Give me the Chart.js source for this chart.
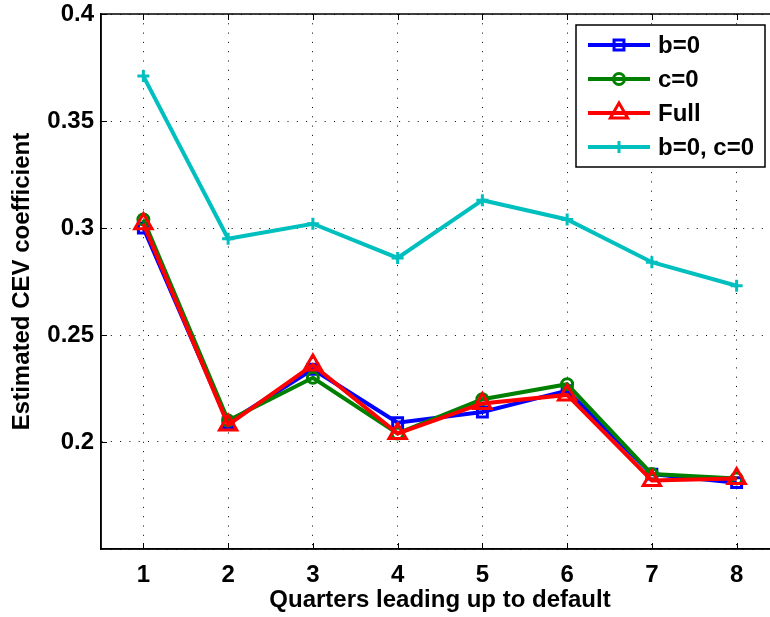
<!DOCTYPE html>
<html>
<head>
<meta charset="utf-8">
<script src="https://cdn.jsdelivr.net/npm/chart.js@4.4.0/dist/chart.umd.min.js"></script>
<style>
  html, body { margin: 0; padding: 0; background: #fff; overflow: hidden; }
  #wrap { width: 800px; height: 617px; }
</style>
</head>
<body>
<div id="wrap"><canvas id="myChart" width="800" height="617"></canvas></div>
<script>
let quarters = ['1', '2', '3', '4', '5', '6', '7', '8'];
let seriesNames = ['b=0', 'c=0', 'Full', 'b=0, c=0'];
let bZero  = [0.300, 0.209, 0.234, 0.209, 0.214, 0.224, 0.185, 0.181];
let cZero  = [0.304, 0.210, 0.230, 0.204, 0.220, 0.227, 0.185, 0.183];
let full   = [0.302, 0.208, 0.236, 0.204, 0.218, 0.222, 0.182, 0.183];
let bcZero = [0.371, 0.295, 0.302, 0.286, 0.313, 0.304, 0.284, 0.273];
let yTicks = [0.2, 0.25, 0.3, 0.35, 0.4];

let fontFam = '"Liberation Sans", Arial, Helvetica, sans-serif';
Chart.defaults.font.family = fontFam;
Chart.defaults.color = '#000';

// matlab style box + inward tick marks
const axesBox = {
  id: 'axesBox',
  beforeDatasetsDraw(chart) {
    const ctx = chart.ctx, a = chart.chartArea;
    const xs = chart.scales.x, ys = chart.scales.y;
    ctx.save();
    ctx.strokeStyle = '#000';
    ctx.lineWidth = 1.5;
    ctx.strokeRect(a.left, a.top, a.right - a.left, a.bottom - a.top);
    ctx.lineWidth = 1;
    ctx.beginPath();
    for (let i = 0; i < quarters.length; i++) {
      const px = Math.round(xs.getPixelForValue(i)) + 0.5;
      ctx.moveTo(px, a.bottom); ctx.lineTo(px, a.bottom - 6);
      ctx.moveTo(px, a.top); ctx.lineTo(px, a.top + 6);
    }
    yTicks.forEach(v => {
      const py = Math.round(ys.getPixelForValue(v)) + 0.5;
      ctx.moveTo(a.left, py); ctx.lineTo(a.left + 6, py);
      ctx.moveTo(a.right, py); ctx.lineTo(a.right - 6, py);
    });
    ctx.stroke();
    ctx.restore();
  }
};

const legendBox = {
  id: 'legendBox',
  afterDraw(chart) {
    const ctx = chart.ctx, a = chart.chartArea;
    const w = 189, h = 142;
    const x0 = a.right - 14 - w, y0 = a.top + 11;
    ctx.save();
    ctx.fillStyle = '#fff';
    ctx.fillRect(x0, y0, w, h);
    ctx.strokeStyle = '#000';
    ctx.lineWidth = 1.5;
    ctx.strokeRect(x0, y0, w, h);
    chart.data.datasets.forEach((ds, i) => {
      const cy = y0 + 20 + i * 34;
      ctx.strokeStyle = ds.borderColor;
      ctx.lineWidth = ds.borderWidth;
      ctx.beginPath();
      ctx.moveTo(x0 + 12, cy);
      ctx.lineTo(x0 + 74, cy);
      ctx.stroke();
      ctx.fillStyle = 'rgba(0,0,0,0)';
      ctx.lineWidth = ds.pointBorderWidth;
      Chart.helpers.drawPoint(ctx, {
        pointStyle: ds.pointStyle, radius: ds.pointRadius,
        borderWidth: ds.pointBorderWidth, rotation: 0
      }, x0 + 43, cy);
      ctx.fillStyle = '#000';
      ctx.font = 'bold 24px ' + fontFam;
      ctx.textBaseline = 'middle';
      ctx.textAlign = 'left';
      ctx.fillText(seriesNames[i], x0 + 82, cy + 1);
    });
    ctx.restore();
  }
};

function series(name, data, color, style, radius, order) {
  return {
    label: name,
    data: data,
    borderColor: color,
    backgroundColor: 'rgba(0,0,0,0)',
    borderWidth: 4,
    pointStyle: style,
    pointRadius: radius,
    pointBorderWidth: 3,
    pointBackgroundColor: 'rgba(0,0,0,0)',
    pointBorderColor: color,
    order: order
  };
}

let ctx = document.getElementById('myChart').getContext('2d');
let myChart = new Chart(ctx, {
  type: 'line',
  data: {
    labels: quarters,
    datasets: [
      series(seriesNames[0], bZero, '#0000ff', 'rect', 7, 3),
      series(seriesNames[1], cZero, '#008000', 'circle', 5.5, 2),
      series(seriesNames[2], full, '#ff0000', 'triangle', 10, 1),
      series(seriesNames[3], bcZero, '#00bfbf', 'cross', 6, 4)
    ]
  },
  options: {
    responsive: false,
    animation: false,
    events: [],
    layout: { padding: { top: 0, right: 21, left: 0, bottom: 0 } },
    plugins: {
      legend: { display: false },
      tooltip: { enabled: false }
    },
    scales: {
      x: {
        type: 'category',
        offset: true,
        afterFit: (s) => { s.height = 68; s.paddingLeft = 0; s.paddingRight = 0; },
        grid: { color: '#000', lineWidth: 1, drawTicks: false, offset: false },
        border: { display: true, color: '#000', width: 1.5, dash: [1, 8.3] },
        ticks: { padding: 12, font: { size: 24, weight: 'bold' }, maxRotation: 0 },
        title: {
          display: true,
          text: 'Quarters leading up to default',
          font: { size: 24, weight: 'bold' },
          padding: { top: 0, bottom: 2 }
        }
      },
      y: {
        min: 0.15,
        max: 0.4,
        afterFit: (s) => { s.width = 101; s.paddingTop = 14; s.paddingBottom = 0; },
        grid: { color: '#000', lineWidth: 1, drawTicks: false },
        border: { display: true, color: '#000', width: 1.5, dash: [1, 8.3] },
        ticks: {
          stepSize: 0.05,
          padding: 7,
          font: { size: 24, weight: 'bold' },
          callback: (v) => (v < 0.175 ? '' : String(+v.toFixed(2)))
        },
        title: {
          display: true,
          text: 'Estimated CEV coefficient',
          font: { size: 24, weight: 'bold' },
          padding: { top: 8, bottom: 0 }
        }
      }
    }
  },
  plugins: [axesBox, legendBox]
});
</script>
</body>
</html>
